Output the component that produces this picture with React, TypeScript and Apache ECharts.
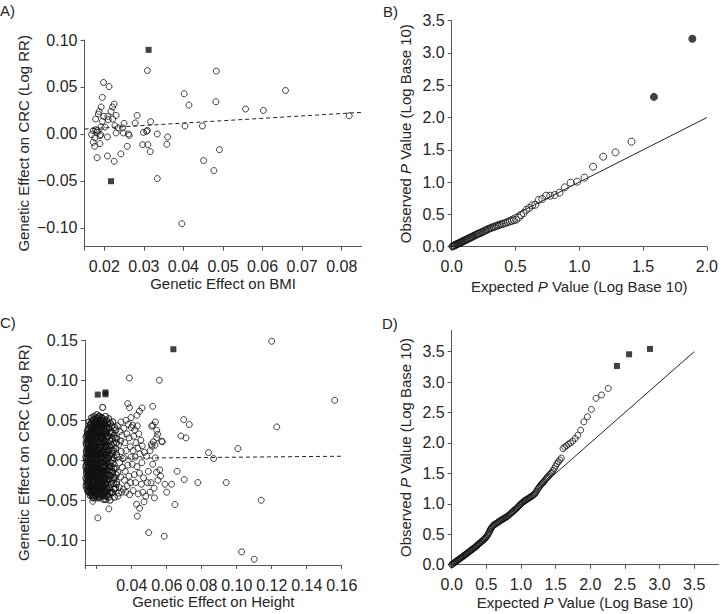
import React, { useEffect, useRef } from "react";
import * as echarts from "echarts";

// ---------- Panel A: BMI vs CRC ----------
const bmiPoints: number[][] = [
  [0.0198, 0.0548], [0.0212, 0.0505], [0.0195, 0.0389], [0.0225, 0.0318], [0.0221, 0.0287],
  [0.0192, 0.0287], [0.0187, 0.024], [0.0185, 0.0212], [0.0217, 0.024], [0.0199, 0.0187],
  [0.0209, 0.0187], [0.0221, 0.0159], [0.023, 0.0197], [0.0178, 0.0159], [0.0195, 0.0134],
  [0.021, 0.0152], [0.0283, 0.0197], [0.0278, 0.0117], [0.0317, 0.0131], [0.0227, 0.0088],
  [0.0235, 0.0064], [0.0246, 0.0064], [0.025, 0.0113], [0.0202, 0.0074], [0.0192, 0.0074],
  [0.0178, 0.0046], [0.0172, 0.0035], [0.0182, 0.0017], [0.0168, -0.0007], [0.0191, -0.0007],
  [0.023, 0.0011], [0.0248, 0.0011], [0.0261, 0.0], [0.0263, -0.0015], [0.0299, 0.0017],
  [0.0307, 0.0028], [0.0309, 0.0038], [0.0334, 0.0], [0.0176, -0.0042], [0.0208, -0.0032],
  [0.036, -0.0032], [0.0172, -0.0089], [0.0189, -0.0103], [0.0176, -0.0132], [0.0258, -0.0132],
  [0.0297, -0.0114], [0.031, -0.0114], [0.0358, -0.011], [0.0316, -0.0188], [0.0182, -0.0252],
  [0.0208, -0.0234], [0.0242, -0.0212], [0.0225, -0.0291], [0.0334, -0.0475], [0.0309, 0.0675],
  [0.0402, 0.0428], [0.0414, 0.0308], [0.0404, 0.0085], [0.0448, 0.0085], [0.0482, 0.0343],
  [0.0483, 0.0669], [0.0451, -0.0283], [0.0477, -0.039], [0.0491, -0.0167], [0.0396, -0.0955],
  [0.0557, 0.0265], [0.0602, 0.025], [0.0658, 0.0463], [0.0819, 0.0194], [0.0182, 0.0035],
  [0.0189, -0.0018]
];
const bmiOutliers: number[][] = [[0.0312, 0.0895], [0.0217, -0.0503]];
const bmiFit: number[][] = [[0.015, 0.0052], [0.085, 0.023]];

// ---------- Panel B: QQ for BMI ----------
const qqBmiExpected = [
  1.409, 1.284, 1.187, 1.108, 1.041, 0.983, 0.932, 0.886, 0.845, 0.807, 0.772, 0.740, 0.710,
  0.682, 0.656, 0.631, 0.607, 0.585, 0.564, 0.544, 0.525, 0.506, 0.488, 0.471, 0.455, 0.439,
  0.424, 0.409, 0.395, 0.381, 0.368, 0.355, 0.342, 0.330, 0.318, 0.307, 0.295, 0.284, 0.274,
  0.263, 0.253, 0.243, 0.233, 0.224, 0.214, 0.205, 0.196, 0.188, 0.179, 0.170, 0.162, 0.154,
  0.146, 0.138, 0.131, 0.123, 0.116, 0.108, 0.101, 0.094, 0.087, 0.080, 0.074, 0.067, 0.060,
  0.054, 0.047, 0.041, 0.035, 0.029, 0.023, 0.017, 0.011, 0.006
];
const qqBmiObserved = [
  1.626, 1.461, 1.394, 1.239, 1.069, 1.007, 0.991, 0.919, 0.836, 0.800, 0.790, 0.790, 0.740,
  0.725, 0.650, 0.640, 0.600, 0.570, 0.520, 0.490, 0.450, 0.420, 0.410, 0.400, 0.390, 0.380,
  0.370, 0.360, 0.350, 0.345, 0.335, 0.325, 0.315, 0.305, 0.300, 0.290, 0.280, 0.270, 0.262,
  0.250, 0.240, 0.232, 0.222, 0.212, 0.205, 0.198, 0.190, 0.182, 0.172, 0.163, 0.155, 0.147,
  0.140, 0.133, 0.125, 0.117, 0.110, 0.103, 0.096, 0.090, 0.083, 0.076, 0.070, 0.063, 0.057,
  0.051, 0.045, 0.039, 0.033, 0.027, 0.022, 0.016, 0.010, 0.005
];
const qqBmiTop: number[][] = [[1.886, 3.22], [1.585, 2.32]];
const qqBmiRef: number[][] = [[0, 0], [2, 2]];

// ---------- Panel C: Height vs CRC ----------
const heightCore: number[][] = [
  [0.0139, 0.029], [0.0145, 0.024], [0.0141, 0.019], [0.0148, 0.015], [0.014, 0.01], [0.0146, 0.006],
  [0.0142, 0.002], [0.0149, -0.002], [0.014, -0.006], [0.0145, -0.011], [0.0141, -0.016], [0.0147, -0.02],
  [0.0143, -0.025], [0.0149, -0.03], [0.0144, -0.036], [0.0148, 0.033], [0.015, -0.039],
  [0.0151, 0.027], [0.0139, 0.022], [0.0151, 0.012], [0.0138, 0.004], [0.0151, 0.0], [0.0138, -0.009],
  [0.0152, -0.014], [0.0138, -0.022], [0.0152, -0.025], [0.0139, -0.032], [0.0146, 0.037],
  [0.0156, 0.048], [0.0161, 0.044], [0.0154, 0.039], [0.0163, 0.035], [0.0157, 0.03], [0.016, 0.026],
  [0.0153, 0.021], [0.0164, 0.017], [0.0158, 0.012], [0.0155, 0.008], [0.0162, 0.004], [0.0157, -0.001],
  [0.0163, -0.005], [0.0154, -0.009], [0.016, -0.013], [0.0156, -0.018], [0.0164, -0.022], [0.0158, -0.027],
  [0.0153, -0.031], [0.0161, -0.035], [0.0157, -0.04], [0.0163, -0.044],
  [0.0166, 0.046], [0.0159, 0.041], [0.0167, 0.032], [0.0159, 0.023], [0.0167, 0.014], [0.016, 0.01],
  [0.0167, 0.001], [0.0159, -0.007], [0.0167, -0.016], [0.016, -0.024], [0.0167, -0.032], [0.016, -0.038],
  [0.0166, -0.041],
  [0.017, 0.053], [0.0175, 0.049], [0.0168, 0.045], [0.0178, 0.041], [0.0172, 0.037], [0.0167, 0.032],
  [0.0176, 0.028], [0.0171, 0.023], [0.0179, 0.019], [0.0169, 0.015], [0.0174, 0.011], [0.0178, 0.006],
  [0.0168, 0.002], [0.0173, -0.003], [0.0179, -0.007], [0.017, -0.012], [0.0176, -0.016], [0.0167, -0.02],
  [0.0174, -0.025], [0.0178, -0.029], [0.0169, -0.034], [0.0175, -0.038], [0.0171, -0.043], [0.0177, -0.047],
  [0.0181, 0.051], [0.0173, 0.043], [0.0182, 0.035], [0.0174, 0.026], [0.0182, 0.017], [0.0173, 0.008],
  [0.0181, -0.001], [0.0173, -0.009], [0.0182, -0.018], [0.0174, -0.022], [0.0182, -0.032], [0.0173, -0.04],
  [0.0181, -0.045],
  [0.0184, 0.055], [0.019, 0.051], [0.0195, 0.047], [0.0186, 0.043], [0.0192, 0.039], [0.0183, 0.034],
  [0.0194, 0.03], [0.0188, 0.026], [0.0182, 0.021], [0.0193, 0.017], [0.0187, 0.013], [0.0195, 0.008],
  [0.0184, 0.004], [0.0191, 0.0], [0.0186, -0.005], [0.0196, -0.009], [0.0183, -0.013], [0.019, -0.018],
  [0.0194, -0.022], [0.0185, -0.026], [0.0192, -0.031], [0.0188, -0.035], [0.0183, -0.04], [0.0195, -0.044],
  [0.0189, -0.047],
  [0.0197, 0.053], [0.0189, 0.045], [0.0197, 0.036], [0.019, 0.028], [0.0197, 0.019], [0.0189, 0.01],
  [0.0197, 0.002], [0.0189, -0.003], [0.0197, -0.014], [0.019, -0.024], [0.0198, -0.033], [0.0191, -0.042],
  [0.0201, 0.057], [0.0207, 0.053], [0.0199, 0.048], [0.021, 0.044], [0.0204, 0.04], [0.0198, 0.035],
  [0.0209, 0.031], [0.0203, 0.027], [0.0211, 0.022], [0.02, 0.018], [0.0206, 0.013], [0.0212, 0.009],
  [0.0202, 0.005], [0.0208, 0.001], [0.0199, -0.004], [0.0205, -0.008], [0.0211, -0.012], [0.0201, -0.017],
  [0.0207, -0.021], [0.0212, -0.026], [0.0203, -0.03], [0.0209, -0.034], [0.02, -0.039], [0.0206, -0.043],
  [0.0211, -0.047],
  [0.0213, 0.055], [0.0205, 0.046], [0.0213, 0.037], [0.0205, 0.029], [0.0214, 0.016], [0.0204, 0.008],
  [0.0214, -0.002], [0.0204, -0.014], [0.0214, -0.019], [0.0205, -0.027], [0.0214, -0.036], [0.0205, -0.045],
  [0.0216, 0.055], [0.0223, 0.05], [0.0218, 0.046], [0.0227, 0.042], [0.0215, 0.037], [0.0221, 0.033],
  [0.0226, 0.028], [0.0217, 0.024], [0.0224, 0.02], [0.0219, 0.015], [0.0228, 0.011], [0.0214, 0.006],
  [0.0222, 0.002], [0.0226, -0.003], [0.0217, -0.007], [0.0223, -0.011], [0.0215, -0.016], [0.0227, -0.02],
  [0.022, -0.024], [0.0225, -0.029], [0.0216, -0.033], [0.0222, -0.038], [0.0228, -0.042], [0.0219, -0.046],
  [0.0229, 0.053], [0.0221, 0.044], [0.0229, 0.035], [0.022, 0.03], [0.0229, 0.022], [0.0221, 0.009],
  [0.0229, 0.004], [0.022, -0.005], [0.0229, -0.014], [0.0222, -0.018], [0.0229, -0.027], [0.0221, -0.035],
  [0.0226, -0.044],
  [0.0234, 0.066], [0.0233, 0.052], [0.024, 0.047], [0.0231, 0.043], [0.0243, 0.039], [0.0237, 0.034],
  [0.023, 0.03], [0.0242, 0.025], [0.0235, 0.021], [0.0245, 0.017], [0.0232, 0.012], [0.0239, 0.008],
  [0.0244, 0.003], [0.0233, -0.001], [0.024, -0.006], [0.0236, -0.01], [0.0244, -0.014], [0.0231, -0.019],
  [0.0238, -0.023], [0.0243, -0.028], [0.0234, -0.032], [0.0241, -0.037], [0.0236, -0.041], [0.0244, -0.045],
  [0.0239, -0.049],
  [0.0246, 0.05], [0.0238, 0.041], [0.0246, 0.032], [0.0238, 0.023], [0.0246, 0.01], [0.0237, 0.001],
  [0.0246, -0.008], [0.0238, -0.017], [0.0246, -0.025], [0.0238, -0.034], [0.0246, -0.04],
  [0.025, 0.055], [0.0257, 0.05], [0.0248, 0.045], [0.026, 0.041], [0.0253, 0.036], [0.0247, 0.032],
  [0.0258, 0.027], [0.0251, 0.023], [0.0261, 0.018], [0.0249, 0.014], [0.0256, 0.009], [0.0262, 0.005],
  [0.0252, 0.0], [0.0259, -0.004], [0.0248, -0.009], [0.0255, -0.013], [0.0261, -0.018], [0.025, -0.022],
  [0.0257, -0.027], [0.0253, -0.031], [0.026, -0.036], [0.0248, -0.04], [0.0256, -0.045], [0.0252, -0.049],
  [0.0264, 0.047], [0.0255, 0.039], [0.0264, 0.03], [0.0255, 0.02], [0.0264, 0.011], [0.0255, 0.002],
  [0.0264, -0.007], [0.0255, -0.016], [0.0264, -0.024], [0.0255, -0.034], [0.0263, -0.042],
  [0.0268, 0.052], [0.0278, 0.046], [0.0271, 0.04], [0.0283, 0.035], [0.0266, 0.03], [0.0276, 0.024],
  [0.0284, 0.019], [0.027, 0.013], [0.028, 0.008], [0.0267, 0.003], [0.0277, -0.003], [0.0285, -0.008],
  [0.0272, -0.013], [0.0281, -0.019], [0.0268, -0.024], [0.0279, -0.03], [0.0274, -0.035], [0.0284, -0.041],
  [0.027, -0.046], [0.0276, -0.05],
  [0.0287, 0.043], [0.0273, 0.035], [0.0288, 0.027], [0.0273, 0.018], [0.0288, 0.012], [0.0273, 0.006],
  [0.0289, 0.0], [0.0274, -0.008], [0.0289, -0.014], [0.0273, -0.019], [0.0288, -0.026], [0.0275, -0.04],
  [0.0292, 0.048], [0.0302, 0.041], [0.029, 0.034], [0.0306, 0.028], [0.0295, 0.021], [0.0309, 0.015],
  [0.0289, 0.009], [0.03, 0.003], [0.0293, -0.004], [0.0307, -0.01], [0.0291, -0.016], [0.0303, -0.022],
  [0.0296, -0.029], [0.0308, -0.035], [0.029, -0.04], [0.0301, -0.046],
  [0.031, 0.038], [0.0298, 0.031], [0.0312, 0.022], [0.0297, 0.012], [0.0313, 0.007], [0.0298, -0.01],
  [0.0312, -0.018], [0.0297, -0.022], [0.0313, -0.03], [0.0299, -0.036],
  [0.0144, 0.031], [0.015, 0.021], [0.0143, 0.013], [0.015, 0.008], [0.0143, -0.001], [0.015, -0.005],
  [0.0143, -0.013], [0.015, -0.017], [0.0143, -0.028], [0.015, -0.033],
  [0.0155, 0.033], [0.0162, 0.028], [0.0155, 0.019], [0.0162, 0.015], [0.0155, 0.003], [0.0162, -0.003],
  [0.0155, -0.016], [0.0162, -0.019], [0.0155, -0.025], [0.0162, -0.03],
  [0.017, 0.039], [0.0177, 0.034], [0.017, 0.027], [0.0177, 0.021], [0.017, 0.008], [0.0177, 0.001],
  [0.017, -0.005], [0.0177, -0.011], [0.017, -0.022], [0.0177, -0.033],
  [0.0185, 0.047], [0.0192, 0.041], [0.0185, 0.032], [0.0192, 0.023], [0.0185, 0.016], [0.0192, 0.006],
  [0.0185, -0.008], [0.0192, -0.011], [0.0185, -0.021], [0.0192, -0.028], [0.0185, -0.037],
  [0.0202, 0.05], [0.0209, 0.042], [0.0202, 0.033], [0.0209, 0.024], [0.0202, 0.011], [0.0209, 0.006],
  [0.0202, -0.006], [0.0209, -0.016], [0.0202, -0.023], [0.0209, -0.029], [0.0202, -0.036],
  [0.0218, 0.048], [0.0225, 0.039], [0.0218, 0.031], [0.0225, 0.017], [0.0218, 0.012], [0.0225, 0.004],
  [0.0218, -0.01], [0.0225, -0.016], [0.0218, -0.028], [0.0225, -0.033], [0.0218, -0.041],
  [0.0234, 0.045], [0.0241, 0.036], [0.0234, 0.027], [0.0241, 0.019], [0.0234, 0.006], [0.0241, -0.003],
  [0.0234, -0.013], [0.0241, -0.02], [0.0234, -0.027], [0.0241, -0.043],
  [0.025, 0.043], [0.0254, 0.03], [0.025, 0.017], [0.0254, 0.006], [0.025, -0.006], [0.0254, -0.019],
  [0.025, -0.029], [0.0254, -0.038]
];
const heightSpread: number[][] = [
  [0.0318, 0.043], [0.0333, 0.036], [0.0314, 0.027], [0.0345, 0.031], [0.0326, 0.019], [0.034, 0.011],
  [0.0317, 0.004], [0.0331, -0.003], [0.0346, -0.009], [0.032, -0.015], [0.0337, -0.021], [0.0314, -0.027],
  [0.0329, -0.034], [0.0343, -0.04], [0.0322, -0.045], [0.0336, 0.024], [0.0348, 0.002], [0.0325, -0.041],
  [0.0355, 0.04], [0.0372, 0.033], [0.036, 0.022], [0.0385, 0.028], [0.0368, 0.012], [0.0392, 0.017],
  [0.0357, 0.003], [0.0378, -0.006], [0.0396, 0.004], [0.0363, -0.014], [0.0384, -0.02], [0.0358, -0.025],
  [0.0374, -0.032], [0.0393, -0.028], [0.0366, -0.04], [0.0388, -0.043], [0.038, 0.045], [0.0398, 0.041],
  [0.0352, -0.036],
  [0.0405, 0.044], [0.0418, 0.038], [0.0432, 0.043], [0.0412, 0.03], [0.044, 0.033], [0.0425, 0.022],
  [0.0452, 0.025], [0.0408, 0.012], [0.0436, 0.015], [0.046, 0.018], [0.042, 0.004], [0.0447, 0.008],
  [0.0472, 0.01], [0.0403, -0.005], [0.043, -0.008], [0.0458, -0.003], [0.0415, -0.018], [0.0444, -0.016],
  [0.0468, -0.022], [0.0422, -0.028], [0.0455, -0.03], [0.0408, -0.038], [0.0437, -0.042], [0.0463, -0.04],
  [0.048, -0.045], [0.0427, -0.055], [0.0445, -0.06], [0.0432, -0.07], [0.047, -0.052], [0.049, -0.028],
  [0.0485, 0.005], [0.0495, -0.014],
  [0.0505, 0.012], [0.0512, 0.02], [0.052, -0.005], [0.0535, 0.003], [0.0542, -0.015], [0.051, -0.028],
  [0.0528, -0.035], [0.055, -0.025], [0.056, -0.012], [0.0505, -0.04], [0.053, -0.047], [0.0565, -0.02],
  [0.0575, 0.023], [0.059, -0.03], [0.06, -0.04],
  [0.0377, 0.0708], [0.0387, 0.0658], [0.0459, 0.0654], [0.052, 0.0675], [0.0444, 0.0613], [0.043, 0.0563],
  [0.0396, 0.0533], [0.0368, 0.05], [0.0339, 0.0479], [0.0514, 0.0425], [0.052, 0.0438], [0.0535, 0.0479],
  [0.0543, 0.0375], [0.0548, 0.0325], [0.0543, 0.0283], [0.0571, 0.0238], [0.0524, 0.0229], [0.0533, 0.0188],
  [0.0516, 0.0175],
  [0.0387, 0.1029], [0.0558, 0.1], [0.12, 0.1488], [0.156, 0.075], [0.1229, 0.0417], [0.0697, 0.0508],
  [0.0729, 0.0446], [0.0681, 0.0304], [0.071, 0.0279], [0.1007, 0.0146], [0.0839, 0.0096], [0.0868, 0.0021],
  [0.0659, -0.0138], [0.07, -0.0242], [0.0628, -0.03], [0.0778, -0.0279], [0.094, -0.0279], [0.114, -0.05],
  [0.0647, -0.0554], [0.0497, -0.0904], [0.0586, -0.095], [0.1028, -0.1146], [0.11, -0.1238], [0.0206, -0.0721],
  [0.0269, -0.0608], [0.0178, -0.0513]
];
const heightOutliers: number[][] = [[0.0206, 0.0821], [0.025, 0.0848], [0.025, 0.0825], [0.0638, 0.1388]];
const heightFit: number[][] = [[0.0133, 0.0021], [0.16, 0.005]];

// ---------- Panel D: QQ for height ----------
const qqHeightPoints: number[][] = [
  [0.0, 0.0], [0.01, 0.01], [0.02, 0.019], [0.03, 0.027], [0.04, 0.035], [0.05, 0.043], [0.06, 0.051],
  [0.07, 0.06], [0.08, 0.068], [0.09, 0.077], [0.1, 0.085], [0.11, 0.093], [0.12, 0.101], [0.13, 0.109],
  [0.14, 0.118], [0.15, 0.126], [0.16, 0.135], [0.17, 0.143], [0.18, 0.151], [0.19, 0.16], [0.2, 0.168],
  [0.21, 0.177], [0.22, 0.185], [0.23, 0.194], [0.24, 0.202], [0.25, 0.211], [0.26, 0.22], [0.27, 0.229],
  [0.28, 0.237], [0.29, 0.246], [0.3, 0.255], [0.31, 0.263], [0.32, 0.272], [0.33, 0.281], [0.34, 0.29],
  [0.35, 0.3], [0.36, 0.31], [0.37, 0.32], [0.38, 0.33], [0.39, 0.34], [0.4, 0.35], [0.41, 0.36],
  [0.42, 0.37], [0.43, 0.38], [0.44, 0.39], [0.45, 0.4], [0.46, 0.41], [0.47, 0.42], [0.48, 0.431],
  [0.49, 0.443], [0.5, 0.455], [0.51, 0.472], [0.52, 0.49], [0.53, 0.51], [0.54, 0.53], [0.548, 0.55],
  [0.555, 0.57], [0.562, 0.585], [0.57, 0.6], [0.58, 0.615], [0.59, 0.63], [0.6, 0.643], [0.61, 0.655],
  [0.622, 0.663], [0.635, 0.67], [0.648, 0.68], [0.66, 0.69], [0.672, 0.7], [0.685, 0.71], [0.698, 0.72],
  [0.71, 0.73], [0.722, 0.738], [0.735, 0.745], [0.748, 0.755], [0.76, 0.765], [0.772, 0.772], [0.785, 0.78],
  [0.798, 0.79], [0.81, 0.8], [0.822, 0.812], [0.835, 0.825], [0.848, 0.838], [0.86, 0.85], [0.872, 0.862],
  [0.885, 0.875], [0.898, 0.888], [0.91, 0.9], [0.922, 0.912], [0.935, 0.925], [0.948, 0.94], [0.96, 0.955],
  [0.972, 0.97], [0.985, 0.985], [0.998, 0.998], [1.01, 1.01], [1.022, 1.022], [1.035, 1.035], [1.048, 1.045],
  [1.06, 1.055], [1.072, 1.065], [1.085, 1.075], [1.098, 1.083], [1.11, 1.09], [1.122, 1.1], [1.135, 1.11],
  [1.148, 1.12], [1.16, 1.13], [1.172, 1.14], [1.185, 1.15], [1.198, 1.163], [1.21, 1.18], [1.222, 1.205],
  [1.235, 1.23], [1.248, 1.25], [1.26, 1.27], [1.272, 1.29], [1.285, 1.31], [1.298, 1.325], [1.31, 1.34],
  [1.322, 1.355], [1.335, 1.37], [1.348, 1.39], [1.36, 1.41], [1.372, 1.425], [1.385, 1.44],
  [1.399, 1.46], [1.414, 1.48], [1.43, 1.5], [1.446, 1.52], [1.463, 1.55], [1.481, 1.58], [1.5, 1.62],
  [1.519, 1.66], [1.539, 1.69], [1.56, 1.72], [1.582, 1.75], [1.606, 1.905], [1.63, 1.93], [1.657, 1.955],
  [1.685, 1.98], [1.715, 2.0], [1.747, 2.03], [1.782, 2.074], [1.82, 2.128], [1.861, 2.21], [1.907, 2.348],
  [1.958, 2.43], [2.016, 2.551], [2.083, 2.732], [2.162, 2.787], [2.259, 2.896]
];
const qqHeightTop: number[][] = [[2.384, 3.264], [2.56, 3.456], [2.861, 3.544]];
const qqHeightRef: number[][] = [[0, 0], [3.5, 3.5]];

const aXTicks = [0.015, 0.02, 0.03, 0.04, 0.05, 0.06, 0.07, 0.08];
const aXLabels = [0.02, 0.03, 0.04, 0.05, 0.06, 0.07, 0.08];
const aYTicks = [-0.1, -0.05, 0, 0.05, 0.1];
const bXTicks = [0, 0.5, 1, 1.5, 2];
const bYTicks = [0, 0.5, 1, 1.5, 2, 2.5, 3, 3.5];
const cXTicks = [0.0133, 0.02, 0.04, 0.06, 0.08, 0.1, 0.12, 0.14, 0.16];
const cXLabels = [0.04, 0.06, 0.08, 0.1, 0.12, 0.14, 0.16];
const cYTicks = [-0.1, -0.05, 0, 0.05, 0.1, 0.15];
const dTicks = [0, 0.5, 1, 1.5, 2, 2.5, 3, 3.5];

const FONT = "'Liberation Sans', Arial, Helvetica, sans-serif";
const TXT = "#262626";
const AXC = "#555";

const fmt2 = (v: number) => (v < -1e-9 ? "\u2212" : "") + Math.abs(v).toFixed(2);
const fmt1 = (v: number) => v.toFixed(1);

function axis(o: any) {
  return {
    type: "value",
    gridIndex: o.grid,
    min: o.min,
    max: o.max,
    axisLine: { show: true, onZero: false, lineStyle: { color: AXC, width: 1 } },
    axisTick: { show: true, length: 4, lineStyle: { color: AXC, width: 1 }, customValues: o.ticks },
    axisLabel: {
      customValues: o.labels,
      formatter: o.fmt,
      color: TXT,
      fontSize: 16,
      fontFamily: FONT,
      margin: o.margin,
      showMinLabel: true,
      showMaxLabel: true,
    },
    splitLine: { show: false },
    name: o.name,
    nameLocation: "middle",
    nameGap: o.nameGap,
    nameRotate: o.rotate,
    nameTextStyle: {
      color: TXT,
      fontSize: 15,
      fontFamily: FONT,
      rich: { i: { fontStyle: "italic", fontSize: 15, fontFamily: FONT, color: TXT } },
    },
  };
}

const ring = { color: "rgba(0,0,0,0)", borderColor: "#111", borderWidth: 1 };
const coreRing = { color: "rgba(0,0,0,0)", borderColor: "#111", borderWidth: 1.15 };

export default function App() {
  const ref = useRef<HTMLDivElement>(null);
  useEffect(() => {
    if (!ref.current) return;
    const chart = echarts.init(ref.current, null, { renderer: "svg" });
    const qqB = qqBmiExpected.map((x, i) => [x, qqBmiObserved[i]]);
    chart.setOption({
      animation: false,
      backgroundColor: "#fff",
      grid: [
        { left: 84.5, top: 40, width: 277, height: 206.7 },
        { left: 451.7, top: 20.7, width: 258, height: 226 },
        { left: 85, top: 340.3, width: 256.7, height: 224.7 },
        { left: 451.7, top: 330.3, width: 266.8, height: 234.4 },
      ],
      xAxis: [
        axis({ grid: 0, min: 0.015, max: 0.085, ticks: aXTicks, labels: aXLabels, fmt: fmt2, margin: 12, name: "Genetic Effect on BMI", nameGap: 28 }),
        axis({ grid: 1, min: 0, max: 2, ticks: bXTicks, labels: bXTicks, fmt: fmt1, margin: 12, name: "Expected {i|P} Value (Log Base 10)", nameGap: 32 }),
        axis({ grid: 2, min: 0.0133, max: 0.16, ticks: cXTicks, labels: cXLabels, fmt: fmt2, margin: 12, name: "Genetic Effect on Height", nameGap: 29 }),
        axis({ grid: 3, min: 0, max: 3.85, ticks: dTicks, labels: dTicks, fmt: fmt1, margin: 12, name: "Expected {i|P} Value (Log Base 10)", nameGap: 30 }),
      ],
      yAxis: [
        axis({ grid: 0, min: -0.12, max: 0.1, ticks: aYTicks, labels: aYTicks, fmt: fmt2, margin: 7, name: "Genetic Effect on CRC (Log RR)", nameGap: 54, rotate: 90 }),
        axis({ grid: 1, min: 0, max: 3.5, ticks: bYTicks, labels: bYTicks, fmt: fmt1, margin: 7, name: "Observed {i|P} Value (Log Base 10)", nameGap: 39, rotate: 90 }),
        axis({ grid: 2, min: -0.131, max: 0.15, ticks: cYTicks, labels: cYTicks, fmt: fmt2, margin: 7, name: "Genetic Effect on CRC (Log RR)", nameGap: 54, rotate: 90 }),
        axis({ grid: 3, min: 0, max: 3.85, ticks: dTicks, labels: dTicks, fmt: fmt1, margin: 7, name: "Observed {i|P} Value (Log Base 10)", nameGap: 39, rotate: 90 }),
      ],
      series: [
        { type: "line", xAxisIndex: 0, yAxisIndex: 0, data: bmiFit, symbol: "none", silent: true, lineStyle: { color: "#222", width: 1, type: [4, 3] } },
        { type: "scatter", xAxisIndex: 0, yAxisIndex: 0, data: bmiPoints, symbol: "circle", symbolSize: 6, itemStyle: ring, silent: true },
        { type: "scatter", xAxisIndex: 0, yAxisIndex: 0, data: bmiOutliers, symbol: "rect", symbolSize: 6, itemStyle: { color: "#111" }, silent: true },

        { type: "line", xAxisIndex: 1, yAxisIndex: 1, data: qqBmiRef, symbol: "none", silent: true, lineStyle: { color: "#222", width: 1 } },
        { type: "scatter", xAxisIndex: 1, yAxisIndex: 1, data: qqB, symbol: "circle", symbolSize: 7, itemStyle: ring, silent: true },
        { type: "scatter", xAxisIndex: 1, yAxisIndex: 1, data: qqBmiTop, symbol: "circle", symbolSize: 8, itemStyle: { color: "#111" }, silent: true },

        { type: "line", xAxisIndex: 2, yAxisIndex: 2, data: heightFit, symbol: "none", silent: true, lineStyle: { color: "#222", width: 1, type: [4, 3] } },
        { type: "scatter", xAxisIndex: 2, yAxisIndex: 2, data: heightCore, symbol: "circle", symbolSize: 6, itemStyle: coreRing, silent: true },
        { type: "scatter", xAxisIndex: 2, yAxisIndex: 2, data: heightSpread, symbol: "circle", symbolSize: 6, itemStyle: ring, silent: true },
        { type: "scatter", xAxisIndex: 2, yAxisIndex: 2, data: heightOutliers, symbol: "rect", symbolSize: 6, itemStyle: { color: "#111" }, silent: true },

        { type: "line", xAxisIndex: 3, yAxisIndex: 3, data: qqHeightRef, symbol: "none", silent: true, lineStyle: { color: "#222", width: 1 } },
        { type: "scatter", xAxisIndex: 3, yAxisIndex: 3, data: qqHeightPoints, symbol: "circle", symbolSize: 6, itemStyle: ring, silent: true },
        { type: "scatter", xAxisIndex: 3, yAxisIndex: 3, data: qqHeightTop, symbol: "rect", symbolSize: 6, itemStyle: { color: "#111" }, silent: true },
      ],
      graphic: [
        { type: "text", left: 0, top: 3, style: { text: "A)", fontSize: 15, fontFamily: FONT, fill: TXT } },
        { type: "text", left: 383, top: 4, style: { text: "B)", fontSize: 15, fontFamily: FONT, fill: TXT } },
        { type: "text", left: 0, top: 315, style: { text: "C)", fontSize: 15, fontFamily: FONT, fill: TXT } },
        { type: "text", left: 382, top: 316, style: { text: "D)", fontSize: 15, fontFamily: FONT, fill: TXT } },
      ],
    });
    return () => chart.dispose();
  }, []);
  return (
    <div
      ref={ref}
      style={{ position: "fixed", left: 0, top: 0, width: 721, height: 614, background: "#fff" }}
    />
  );
}
